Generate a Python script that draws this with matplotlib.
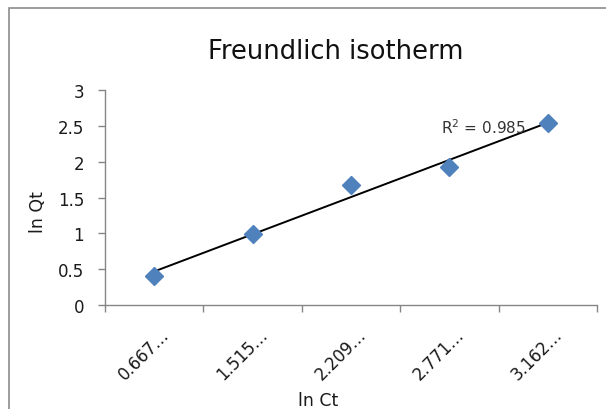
import matplotlib
matplotlib.use('Agg')
import matplotlib.pyplot as plt
import matplotlib.transforms as mtransforms
from matplotlib.patches import Rectangle
import numpy as np

# data
ln_ct_labels = ['0.667\u2026', '1.515\u2026', '2.209\u2026', '2.771\u2026', '3.162\u2026']
ln_qt = [0.41, 0.99, 1.67, 1.92, 2.54]
r_squared = 0.985

plt.rcParams['font.family'] = ['DejaVu Sans']
txt = '#1a1a1a'

W, H = 606, 410
fig = plt.figure(figsize=(W / 100, H / 100), dpi=100)
fig.patch.set_facecolor('white')

# chart frame (runs off right and bottom like the reference)
fig.patches.append(Rectangle((8.5 / W, -0.1), 1.2, 1 - 8.5 / H + 0.1,
                             transform=fig.transFigure, fill=False,
                             edgecolor='#8c8c8c', linewidth=1.2))

ax = fig.add_axes([105 / W, 1 - 306 / H, (597 - 105) / W, (306 - 91) / H])

x = np.arange(len(ln_qt))
ax.plot(x, ln_qt, linestyle='none', marker='D', markersize=9.5,
        color='#4f81bd', zorder=3)

# linear trendline
slope, intercept = np.polyfit(x, ln_qt, 1)
ax.plot(x, slope * x + intercept, color='black', linewidth=1.4, zorder=2)
ax.text(2.91, 2.49, 'R$^2$ = %.3f' % r_squared, fontsize=11,
        va='center', ha='left', color='#333333')

ax.set_xlim(-0.5, len(ln_qt) - 0.5)
ax.set_ylim(0, 3)
ax.set_yticks(np.arange(0, 3.01, 0.5))
ax.set_yticklabels(['0', '0.5', '1', '1.5', '2', '2.5', '3'])

ax.set_xticks(np.arange(-0.5, len(ln_qt), 1))
ax.set_xticklabels([])
ax.set_xticks(x, minor=True)
ax.set_xticklabels(ln_ct_labels, minor=True, rotation=45, ha='right',
                   va='center', rotation_mode='anchor')

for s in ['top', 'right']:
    ax.spines[s].set_visible(False)
for s in ['left', 'bottom']:
    ax.spines[s].set_color('#868686')
    ax.spines[s].set_linewidth(1.0)

ax.tick_params(axis='both', which='major', color='#868686', length=5,
               width=1.0, labelsize=12, labelcolor=txt)
ax.tick_params(axis='y', pad=10)
ax.tick_params(axis='x', which='minor', length=0, pad=19, labelsize=12,
               labelcolor=txt)

offset = mtransforms.ScaledTranslation(12 / 100, 0, fig.dpi_scale_trans)
for lab in ax.get_xticklabels(minor=True):
    lab.set_transform(lab.get_transform() + offset)

fig.text(38 / W, 1 - 212 / H, 'ln Qt', fontsize=12.5, color=txt,
         rotation=90, ha='center', va='center')
fig.text(318 / W, 1 - 392 / H, 'ln Ct', fontsize=12.5, color=txt,
         ha='center', va='top')
fig.text(336 / W, 1 - 52 / H, 'Freundlich isotherm', fontsize=18.5,
         color='#111111', ha='center', va='center')

fig.savefig('out.png', dpi=100, facecolor='white')
